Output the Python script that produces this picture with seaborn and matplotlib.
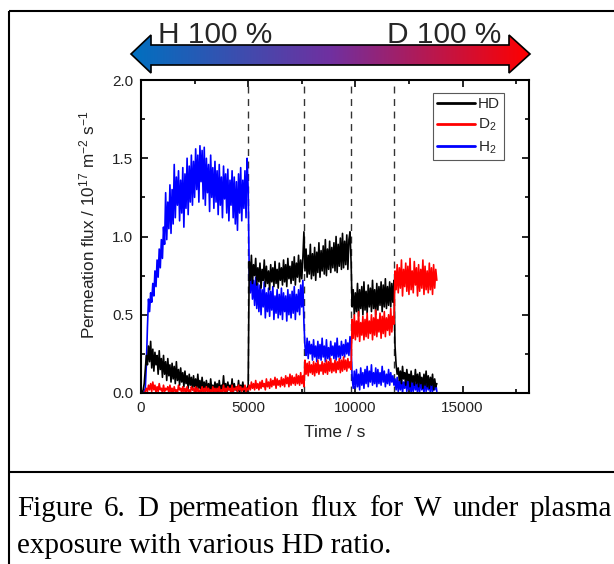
import numpy as np
import seaborn as sns
import matplotlib
matplotlib.use("Agg")
import matplotlib.pyplot as plt
from matplotlib.path import Path
from matplotlib.patches import PathPatch
from matplotlib.lines import Line2D
from matplotlib.colors import LinearSegmentedColormap
from matplotlib.ticker import MultipleLocator

# sampling times of the permeation signals (s), one reading every 50 s
time_s = np.arange(0, 13801, 50)

# H2 permeation flux (1e17 m^-2 s^-1), ten readings per row (500 s)
h2_flux = [
    0.00, 0.00, 0.00, 0.01, 0.03, 0.18, 0.42, 0.60, 0.52, 0.64,
    0.58, 0.70, 0.62, 0.78, 0.68, 0.85, 0.74, 0.92, 0.80, 0.98,
    0.86, 1.06, 0.95, 1.28, 0.98, 1.22, 1.05, 1.33, 1.02, 1.30,
    1.08, 1.46, 1.12, 1.38, 1.20, 1.42, 1.10, 1.36, 1.15, 1.44,
    1.06, 1.40, 1.18, 1.50, 1.14, 1.45, 1.22, 1.52, 1.20, 1.48,
    1.25, 1.56, 1.30, 1.52, 1.22, 1.58, 1.35, 1.55, 1.24, 1.57,
    1.20, 1.50, 1.28, 1.46, 1.16, 1.52, 1.25, 1.44, 1.18, 1.48,
    1.22, 1.42, 1.14, 1.46, 1.20, 1.38, 1.12, 1.45, 1.24, 1.40,
    1.15, 1.43, 1.10, 1.36, 1.20, 1.42, 1.12, 1.38, 1.08, 1.35,
    1.04, 1.40, 1.15, 1.44, 1.10, 1.36, 1.18, 1.42, 1.12, 1.50,
    1.30, 0.76, 0.64, 0.78, 0.60, 0.72, 0.56, 0.74, 0.54, 0.70,
    0.52, 0.69, 0.50, 0.66, 0.55, 0.71, 0.48, 0.64, 0.52, 0.67,
    0.49, 0.65, 0.53, 0.68, 0.47, 0.62, 0.51, 0.66, 0.48, 0.63,
    0.50, 0.67, 0.47, 0.64, 0.52, 0.62, 0.46, 0.66, 0.50, 0.63,
    0.48, 0.65, 0.51, 0.68, 0.47, 0.63, 0.52, 0.66, 0.50, 0.69,
    0.55, 0.72, 0.45, 0.30, 0.24, 0.35, 0.22, 0.33, 0.25, 0.31,
    0.21, 0.34, 0.23, 0.30, 0.20, 0.33, 0.22, 0.31, 0.21, 0.35,
    0.23, 0.30, 0.20, 0.34, 0.22, 0.29, 0.21, 0.33, 0.24, 0.30,
    0.22, 0.32, 0.21, 0.35, 0.23, 0.30, 0.22, 0.33, 0.24, 0.31,
    0.23, 0.34, 0.25, 0.32, 0.24, 0.36, 0.28, 0.10, 0.03, 0.14,
    0.03, 0.15, 0.04, 0.12, 0.02, 0.16, 0.05, 0.13, 0.03, 0.15,
    0.06, 0.17, 0.04, 0.14, 0.07, 0.18, 0.05, 0.13, 0.06, 0.16,
    0.04, 0.15, 0.06, 0.13, 0.05, 0.17, 0.07, 0.14, 0.04, 0.12,
    0.06, 0.15, 0.05, 0.13, 0.07, 0.11, 0.05, 0.09, 0.02, 0.10,
    0.01, 0.08, 0.02, 0.10, 0.00, 0.07, 0.03, 0.09, 0.01, 0.08,
    0.02, 0.10, 0.00, 0.07, 0.01, 0.09, 0.02, 0.06, 0.00, 0.08,
    0.01, 0.09, 0.02, 0.07, 0.00, 0.10, 0.01, 0.08, 0.02, 0.06,
    0.00, 0.08, 0.01, 0.07, 0.02, 0.06, 0.01,
]

# HD permeation flux
hd_flux = [
    0.00, 0.00, 0.02, 0.06, 0.15, 0.24, 0.18, 0.30, 0.20, 0.33,
    0.16, 0.28, 0.14, 0.26, 0.18, 0.24, 0.12, 0.27, 0.15, 0.22,
    0.10, 0.24, 0.12, 0.20, 0.08, 0.22, 0.11, 0.18, 0.07, 0.19,
    0.09, 0.17, 0.06, 0.20, 0.08, 0.15, 0.05, 0.16, 0.07, 0.13,
    0.04, 0.14, 0.06, 0.11, 0.03, 0.12, 0.05, 0.10, 0.02, 0.11,
    0.04, 0.09, 0.02, 0.12, 0.03, 0.08, 0.01, 0.10, 0.03, 0.07,
    0.01, 0.08, 0.02, 0.06, 0.00, 0.09, 0.02, 0.05, 0.01, 0.07,
    0.02, 0.06, 0.00, 0.08, 0.01, 0.05, 0.02, 0.11, 0.01, 0.06,
    0.00, 0.07, 0.02, 0.05, 0.01, 0.09, 0.00, 0.06, 0.02, 0.04,
    0.01, 0.08, 0.00, 0.05, 0.02, 0.07, 0.01, 0.04, 0.02, 0.03,
    0.05, 0.84, 0.72, 0.88, 0.70, 0.82, 0.75, 0.86, 0.69, 0.80,
    0.71, 0.83, 0.67, 0.79, 0.72, 0.85, 0.68, 0.81, 0.70, 0.78,
    0.66, 0.82, 0.71, 0.80, 0.68, 0.84, 0.70, 0.79, 0.67, 0.83,
    0.72, 0.80, 0.69, 0.85, 0.71, 0.82, 0.68, 0.86, 0.73, 0.81,
    0.70, 0.84, 0.72, 0.87, 0.69, 0.83, 0.74, 0.88, 0.71, 0.85,
    0.73, 0.86, 1.03, 0.78, 0.92, 0.74, 0.88, 0.76, 0.95, 0.73,
    0.89, 0.75, 0.93, 0.72, 0.90, 0.77, 0.96, 0.74, 0.91, 0.78,
    0.94, 0.76, 0.98, 0.75, 0.92, 0.79, 0.97, 0.77, 0.93, 0.80,
    0.96, 0.78, 1.00, 0.77, 0.95, 0.81, 0.99, 0.79, 1.02, 0.80,
    0.97, 0.82, 1.01, 0.79, 0.98, 1.03, 0.84, 0.55, 0.66, 0.50,
    0.64, 0.52, 0.70, 0.49, 0.66, 0.54, 0.68, 0.50, 0.71, 0.53,
    0.65, 0.51, 0.69, 0.55, 0.67, 0.52, 0.72, 0.54, 0.66, 0.50,
    0.70, 0.53, 0.68, 0.56, 0.71, 0.52, 0.69, 0.55, 0.73, 0.54,
    0.68, 0.56, 0.71, 0.55, 0.70, 0.58, 0.72, 0.30, 0.18, 0.12,
    0.16, 0.08, 0.14, 0.06, 0.17, 0.09, 0.13, 0.05, 0.15, 0.08,
    0.12, 0.04, 0.14, 0.07, 0.11, 0.05, 0.15, 0.06, 0.12, 0.04,
    0.13, 0.06, 0.10, 0.03, 0.12, 0.05, 0.14, 0.04, 0.11, 0.03,
    0.10, 0.05, 0.12, 0.02, 0.09, 0.04, 0.06,
]

# D2 permeation flux
d2_flux = [
    0.00, 0.00, 0.00, 0.00, 0.01, 0.03, 0.01, 0.05, 0.02, 0.06,
    0.01, 0.07, 0.02, 0.05, 0.00, 0.04, 0.01, 0.06, 0.02, 0.03,
    0.00, 0.05, 0.01, 0.03, 0.02, 0.04, 0.00, 0.05, 0.01, 0.03,
    0.00, 0.04, 0.01, 0.02, 0.00, 0.05, 0.02, 0.03, 0.00, 0.04,
    0.01, 0.03, 0.00, 0.04, 0.01, 0.02, 0.00, 0.04, 0.02, 0.03,
    0.00, 0.04, 0.01, 0.03, 0.00, 0.02, 0.01, 0.04, 0.00, 0.03,
    0.01, 0.04, 0.00, 0.03, 0.01, 0.02, 0.00, 0.04, 0.01, 0.03,
    0.00, 0.03, 0.01, 0.04, 0.00, 0.02, 0.01, 0.05, 0.00, 0.03,
    0.01, 0.04, 0.02, 0.03, 0.00, 0.05, 0.01, 0.03, 0.02, 0.04,
    0.01, 0.05, 0.02, 0.04, 0.01, 0.03, 0.02, 0.05, 0.01, 0.03,
    0.02, 0.05, 0.02, 0.07, 0.03, 0.06, 0.02, 0.08, 0.03, 0.06,
    0.02, 0.07, 0.03, 0.08, 0.04, 0.06, 0.02, 0.09, 0.04, 0.07,
    0.03, 0.09, 0.04, 0.08, 0.05, 0.10, 0.03, 0.09, 0.05, 0.08,
    0.04, 0.10, 0.05, 0.09, 0.04, 0.11, 0.06, 0.10, 0.04, 0.12,
    0.05, 0.11, 0.06, 0.10, 0.05, 0.12, 0.06, 0.11, 0.05, 0.13,
    0.06, 0.11, 0.04, 0.21, 0.12, 0.19, 0.11, 0.20, 0.13, 0.18,
    0.12, 0.20, 0.11, 0.19, 0.13, 0.21, 0.12, 0.18, 0.14, 0.20,
    0.12, 0.19, 0.13, 0.21, 0.12, 0.20, 0.14, 0.22, 0.13, 0.19,
    0.14, 0.21, 0.13, 0.20, 0.15, 0.22, 0.13, 0.21, 0.14, 0.23,
    0.15, 0.21, 0.14, 0.22, 0.16, 0.20, 0.15, 0.47, 0.35, 0.50,
    0.34, 0.46, 0.36, 0.52, 0.33, 0.45, 0.37, 0.49, 0.34, 0.47,
    0.36, 0.51, 0.35, 0.46, 0.38, 0.50, 0.34, 0.48, 0.37, 0.53,
    0.36, 0.47, 0.39, 0.51, 0.35, 0.49, 0.38, 0.52, 0.36, 0.48,
    0.40, 0.50, 0.37, 0.54, 0.39, 0.49, 0.44, 0.78, 0.66, 0.82,
    0.64, 0.80, 0.67, 0.85, 0.62, 0.79, 0.68, 0.83, 0.65, 0.81,
    0.63, 0.86, 0.66, 0.78, 0.64, 0.84, 0.69, 0.80, 0.62, 0.82,
    0.65, 0.79, 0.67, 0.85, 0.63, 0.81, 0.66, 0.78, 0.64, 0.83,
    0.66, 0.80, 0.63, 0.82, 0.67, 0.79, 0.72,
]

# times at which the H/D ratio of the plasma was changed
switch_times = [5000, 7600, 9800, 11800]

legend_labels = ["HD", "D$_2$", "H$_2$"]
legend_colors = ["black", "red", "blue"]
x_ticks = [0, 5000, 10000, 15000]
y_ticks = [0.0, 0.5, 1.0, 1.5, 2.0]

ratio_left = "H 100 %"
ratio_right = "D 100 %"
caption_lines = [
    "Figure 6. D permeation flux for W under plasma",
    "exposure with various HD ratio.",
]

sns.set_theme(style="ticks")
plt.rcParams["font.family"] = ["Liberation Sans", "DejaVu Sans"]
plt.rcParams["mathtext.default"] = "regular"

W, H = 614, 564
fig = plt.figure(figsize=(W / 100, H / 100), dpi=100)
fig.patch.set_facecolor("white")

# full-figure overlay in pixel units for frame, arrow and caption
ov = fig.add_axes([0, 0, 1, 1])
ov.set_axis_off()

# frame around figure and caption
frame_kw = dict(color="black", lw=1.5, solid_capstyle="butt", clip_on=False)
ov.plot([9, 9], [11, H], **frame_kw)
ov.plot([9, W], [11, 11], **frame_kw)
ov.plot([9, W], [472, 472], **frame_kw)

# double-headed gradient arrow (H -> D)
arrow_verts = [(131, 54), (151, 35), (151, 45), (509, 45), (509, 35),
               (530, 54), (509, 73), (509, 65), (151, 65), (151, 73),
               (131, 54)]
arrow_path = Path(arrow_verts, closed=True)
arrow_patch = PathPatch(arrow_path, facecolor="none", edgecolor="black",
                        lw=1.2, zorder=3)
ov.add_patch(arrow_patch)
cmap = LinearSegmentedColormap.from_list(
    "hd", ["#0070C0", "#7030A0", "#FF0000"])
grad = np.linspace(0, 1, 256).reshape(1, -1)
im = ov.imshow(grad, cmap=cmap, extent=(131, 530, 73, 35), aspect="auto",
               interpolation="bilinear", zorder=2)
im.set_clip_path(arrow_patch)

ov.text(158, 43, ratio_left, fontsize=21.5, va="baseline", ha="left")
ov.text(387, 43, ratio_right, fontsize=21.5, va="baseline", ha="left")

ov.set_xlim(0, W)
ov.set_ylim(H, 0)

# caption, first line justified
cap_kw = dict(fontsize=21, family=["Liberation Serif", "DejaVu Serif"],
              va="baseline", ha="left", color="black")
renderer = fig.canvas.get_renderer()
words = caption_lines[0].split()
widths = []
for w in words:
    t = ov.text(0, 0, w, **cap_kw)
    widths.append(t.get_window_extent(renderer).width)
    t.remove()
x0, x1 = 17, 612
gap = (x1 - x0 - sum(widths)) / (len(words) - 1)
x = x0
for w, wd in zip(words, widths):
    ov.text(x, 516, w, **cap_kw)
    x += wd + gap
ov.text(x0, 553, caption_lines[1], **cap_kw)

# main plot
ax = fig.add_axes([141 / W, (H - 393) / H, 388 / W, 313 / H])
ax.set_facecolor("white")

for t in switch_times:
    ax.axvline(t, color="0.2", ls=(0, (5, 4)), lw=1.0, zorder=1)

line_kw = dict(lw=1.2, ax=ax, estimator=None, sort=False, legend=False)
sns.lineplot(x=time_s, y=h2_flux, color="blue", **line_kw)
sns.lineplot(x=time_s, y=hd_flux, color="black", **line_kw)
sns.lineplot(x=time_s, y=d2_flux, color="red", **line_kw)

ax.set_xlim(0, 18100)
ax.set_ylim(0, 2.0)
ax.set_xticks(x_ticks)
ax.set_yticks(y_ticks)
ax.set_yticklabels([f"{v:.1f}" for v in y_ticks])
ax.xaxis.set_minor_locator(MultipleLocator(2500))
ax.yaxis.set_minor_locator(MultipleLocator(0.25))
ax.tick_params(which="both", direction="in", top=True, right=True,
               color="black", width=1.2, labelsize=11, labelcolor="#222222",
               pad=5.5)
ax.tick_params(which="major", length=5)
ax.tick_params(which="minor", length=3)
for s in ax.spines.values():
    s.set_linewidth(1.5)
    s.set_color("black")

ax.set_xlabel("Time / s", fontsize=12.5, color="#222222")
ax.set_ylabel("Permeation flux / 10$^{17}$ m$^{-2}$ s$^{-1}$",
              fontsize=12.3, color="#222222")
ax.xaxis.set_label_coords(0.5, -0.102)
ax.yaxis.set_label_coords(-0.113, 0.537)

handles = [Line2D([], [], color=c, lw=2) for c in legend_colors]
leg = ax.legend(handles, legend_labels, loc="upper left",
                bbox_to_anchor=(0.753, 0.958), borderaxespad=0,
                frameon=True, fancybox=False, edgecolor="0.35",
                framealpha=1, fontsize=11, handlelength=2.5,
                handletextpad=0.2, borderpad=0.25, labelspacing=0.4)
leg.get_frame().set_linewidth(0.8)

fig.savefig("out.png", dpi=100, facecolor="white")
